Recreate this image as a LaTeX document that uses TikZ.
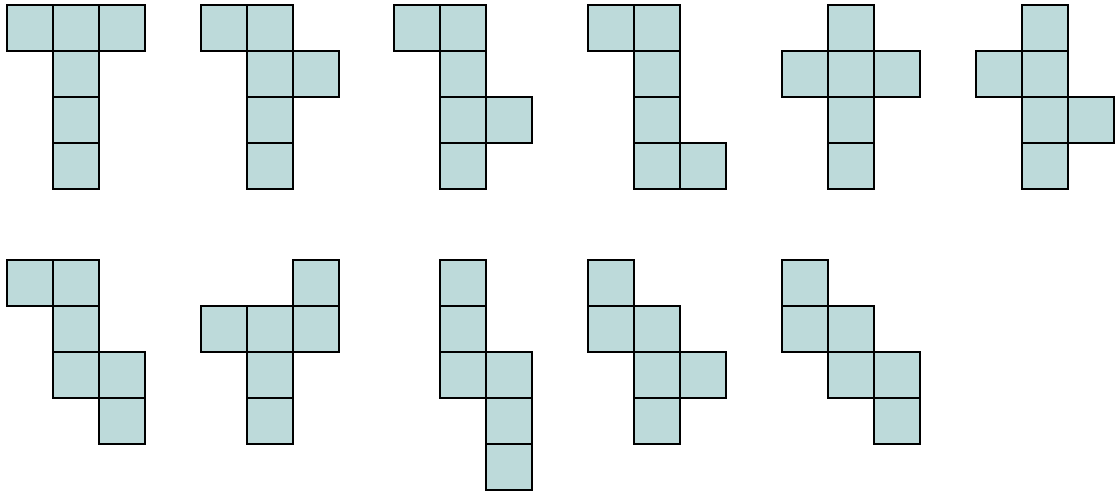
\documentclass[tikz,border=0pt]{standalone}
\definecolor{netfill}{HTML}{BDDADA}
\begin{document}
\begin{tikzpicture}[x=1pt,y=-1pt,
  cell/.style={draw=black,fill=netfill,line width=1.5pt}]
\useasboundingbox (0,0) rectangle (1116,494);
\def\s{46}
% row 1 nets, y0=5
\foreach \xo/\cells in {
  7/{0/0,1/0,2/0,1/1,1/2,1/3},
  201/{0/0,1/0,1/1,2/1,1/2,1/3},
  394/{0/0,1/0,1/1,1/2,2/2,1/3},
  588/{0/0,1/0,1/1,1/2,1/3,2/3},
  782/{1/0,0/1,1/1,2/1,1/2,1/3},
  976/{1/0,0/1,1/1,1/2,2/2,1/3}}{
  \foreach \c/\r in \cells
    \draw[cell] ({\xo+\c*\s},{5+\r*\s}) rectangle ++(\s,\s);
}
% row 2 nets, y0=260
\foreach \xo/\cells in {
  7/{0/0,1/0,1/1,1/2,2/2,2/3},
  201/{2/0,0/1,1/1,2/1,1/2,1/3},
  394/{1/0,1/1,1/2,2/2,2/3,2/4},
  588/{0/0,0/1,1/1,1/2,2/2,1/3},
  782/{0/0,0/1,1/1,1/2,2/2,2/3}}{
  \foreach \c/\r in \cells
    \draw[cell] ({\xo+\c*\s},{260+\r*\s}) rectangle ++(\s,\s);
}
\end{tikzpicture}
\end{document}
